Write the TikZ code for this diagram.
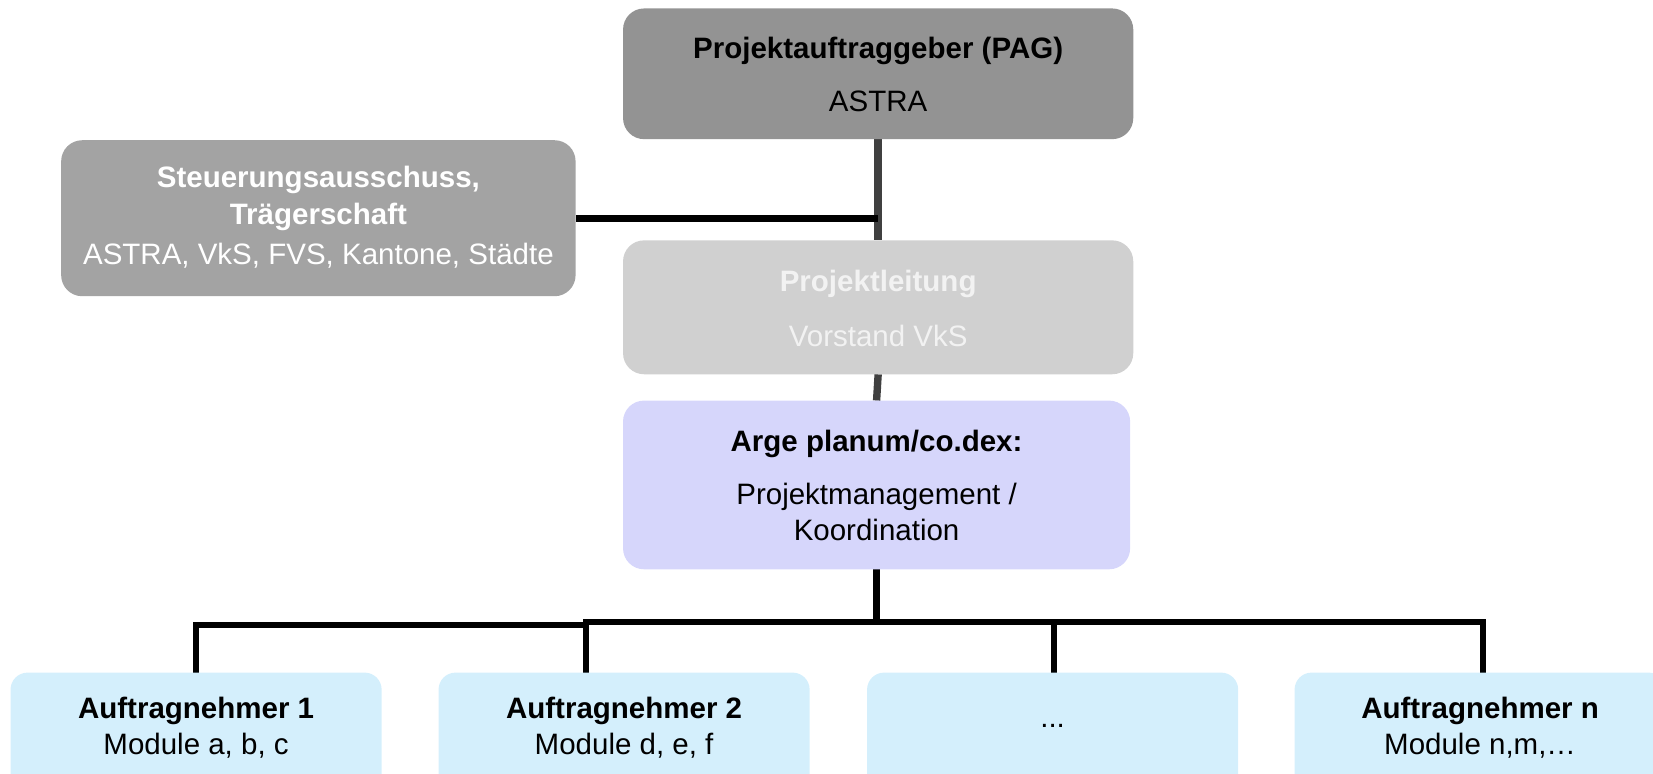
\documentclass[tikz,border=0pt]{standalone}
\usepackage{fontspec}
\setmainfont{Liberation Sans}
\usetikzlibrary{calc,backgrounds}
\definecolor{pagfill}{RGB}{147,147,147}
\definecolor{steufill}{RGB}{163,163,163}
\definecolor{plfill}{RGB}{208,208,208}
\definecolor{pltext}{RGB}{242,242,242}
\definecolor{argefill}{RGB}{214,214,251}
\definecolor{anfill}{RGB}{212,239,252}
\definecolor{darkline}{RGB}{64,64,64}
\begin{document}
\begin{tikzpicture}[x=1.0542pt,y=-1.0542pt,
  box/.style={draw=none,rounded corners=21pt,inner sep=0pt,outer sep=0pt},
  anbox/.style={box,fill=anfill,rounded corners=17pt,minimum width=371.1pt,minimum height=179.2pt},
  txt/.style={inner sep=0pt,font=\fontsize{29.5}{35}\selectfont},
  btxt/.style={inner sep=0pt,font=\fontsize{29.5}{35}\selectfont\bfseries},
  conn/.style={line width=6.5pt,black},
  dconn/.style={line width=7.4pt,darkline}]
\useasboundingbox (0,0) rectangle (1568,733.3);
\clip (0,0) rectangle (1568,733.3);
% boxes
\node[box,fill=pagfill,minimum width=510.2pt,minimum height=130.7pt] (pag) at (833,70) {};
\node[box,fill=steufill,minimum width=514.4pt,minimum height=156pt] (steu) at (302,207) {};
\node[box,fill=plfill,minimum width=510.2pt,minimum height=133.9pt] (pl) at (833,291.5) {};
\node[box,fill=argefill,minimum width=507.1pt,minimum height=168.7pt] (arge) at (831.5,460) {};
\node[anbox] (an1) at (186,723) {};
\node[anbox] (an2) at (592,723) {};
\node[anbox] (an3) at (998.5,723) {};
\node[anbox] (an4) at (1404,723) {};
% connectors behind boxes
\begin{scope}[on background layer]
  \coordinate (bus) at ($(arge.south)+(0,50)$);
  \coordinate (b2) at ($(an2.north)+(-36,0)$);
  \draw[dconn] (pag.south) -- (pl.north);
  \draw[conn,line width=7.4pt] (steu.east) -- (steu.east -| pag.south);
  \draw[dconn] (pl.south) -- (arge.north);
  \draw[conn] (arge.south) -- (bus);
  \draw[conn] (an1.north) |- ($(b2 |- bus)+(0,3)$);
  \draw[conn] (b2) |- (bus);
  \draw[conn] (bus) -| ([xshift=1.5pt]an3.north);
  \draw[conn] (bus) -| ([xshift=3pt]an4.north);
\end{scope}
% texts
\node[btxt] (pagt1) at (833,48) {Projektauftraggeber (PAG)};
\node[txt] (pagt2) at (833,96) {ASTRA};
\node[btxt,white] (steut1) at (302,171) {Steuerungsausschuss,};
\node[btxt,white] (steut2) at (302,206) {Trägerschaft};
\node[txt,white] (steut3) at (302,243) {ASTRA, VkS, FVS, Kantone, Städte};
\node[btxt,pltext] (plt1) at (833,269) {Projektleitung};
\node[txt,pltext] (plt2) at (833,319) {Vorstand VkS};
\node[btxt] (arget1) at (831.5,421) {Arge planum/co.dex:};
\node[txt] (arget2) at (831.5,471) {Projektmanagement /};
\node[txt] (arget3) at (831.5,503) {Koordination};
\node[btxt] (an1t1) at (186,674) {Auftragnehmer 1};
\node[txt] (an1t2) at (186,707) {Module a, b, c};
\node[btxt] (an2t1) at (592,674) {Auftragnehmer 2};
\node[txt] (an2t2) at (592,707) {Module d, e, f};
\node[txt] (an3t) at (998.5,689) {...};
\node[btxt] (an4t1) at (1404,674) {Auftragnehmer n};
\node[txt] (an4t2) at (1404,707) {Module n,m,…};
\end{tikzpicture}
\end{document}
